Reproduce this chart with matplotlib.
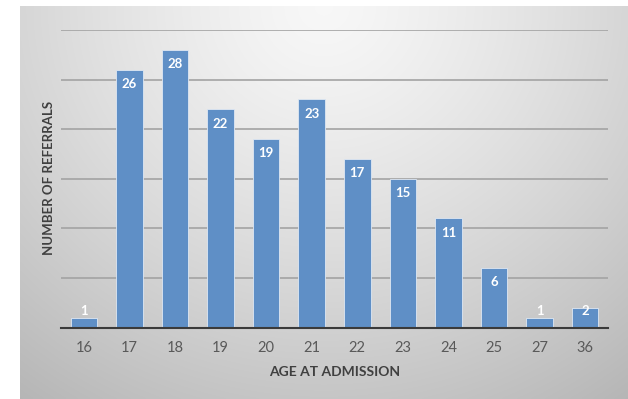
import numpy as np
import matplotlib
matplotlib.use("Agg")
import matplotlib.pyplot as plt

ages = ["16", "17", "18", "19", "20", "21", "22", "23", "24", "25", "27", "36"]
referrals = [1, 26, 28, 22, 19, 23, 17, 15, 11, 6, 1, 2]
y_ticks = [0, 5, 10, 15, 20, 25, 30]

W, H = 628, 399
fig = plt.figure(figsize=(W / 100, H / 100), dpi=100)
fig.patch.set_facecolor("white")

# gradient background panel
bg = fig.add_axes([20 / W, 0, 608 / W, (H - 6) / H], zorder=0)
ny, nx = 200, 300
yy, xx = np.mgrid[0:1:ny * 1j, 0:1:nx * 1j]
d = np.sqrt(((xx - 0.5) / 0.75) ** 2 + ((yy - 0.0) / 1.1) ** 2)
val = 0.97 - 0.22 * np.clip(d, 0, 1.2) ** 1.3
img = np.dstack([val, val, val])
bg.imshow(img, aspect="auto", extent=[0, 1, 1, 0], interpolation="bilinear")
bg.set_axis_off()

left, right = 61, 608
top, bottom = 30, 327.5
ax = fig.add_axes([left / W, 1 - bottom / H, (right - left) / W, (bottom - top) / H], zorder=1)
ax.patch.set_alpha(0)

x = np.arange(len(ages))
ax.bar(x, referrals, width=0.58, color="#5f8fc6", edgecolor="#dfe8f3", linewidth=0.6, zorder=3)
ax.set_xlim(-0.5, len(ages) - 0.5)
ax.set_ylim(0, 30)
ax.set_yticks(y_ticks)
ax.yaxis.grid(True, color="#a3a3a3", linewidth=1.2, zorder=0)
ax.set_axisbelow(True)
ax.tick_params(axis="y", length=0, labelleft=False)
ax.tick_params(axis="x", length=0, pad=10, labelsize=10.5, labelcolor="#595959")
ax.set_xticks(x)
ax.set_xticklabels(ages, fontfamily="Lato")
for s in ["top", "right", "left"]:
    ax.spines[s].set_visible(False)
ax.spines["bottom"].set_color("#3a3a3a")
ax.spines["bottom"].set_linewidth(1.5)
ax.spines["bottom"].set_zorder(4)

# Excel-style "inside end" labels: short bars push the label up from the base
min_anchor = 3.1
for xi, v in zip(x, referrals):
    ax.annotate(str(v), (xi, max(v, min_anchor)), xytext=(0, -6), textcoords="offset points",
                ha="center", va="top", color="white", fontsize=9.5,
                fontweight="bold", fontfamily="Lato", zorder=5)

ax.set_xlabel("AGE AT ADMISSION", fontsize=10, fontweight="bold", color="#404040",
              fontfamily="Lato", labelpad=8)
fig.text(49 / W, 1 - 178 / H, "NUMBER OF REFERRALS", rotation=90, ha="center", va="center",
         fontsize=9.5, fontweight="bold", color="#404040", fontfamily="Lato")

fig.savefig("out.png", dpi=100)
